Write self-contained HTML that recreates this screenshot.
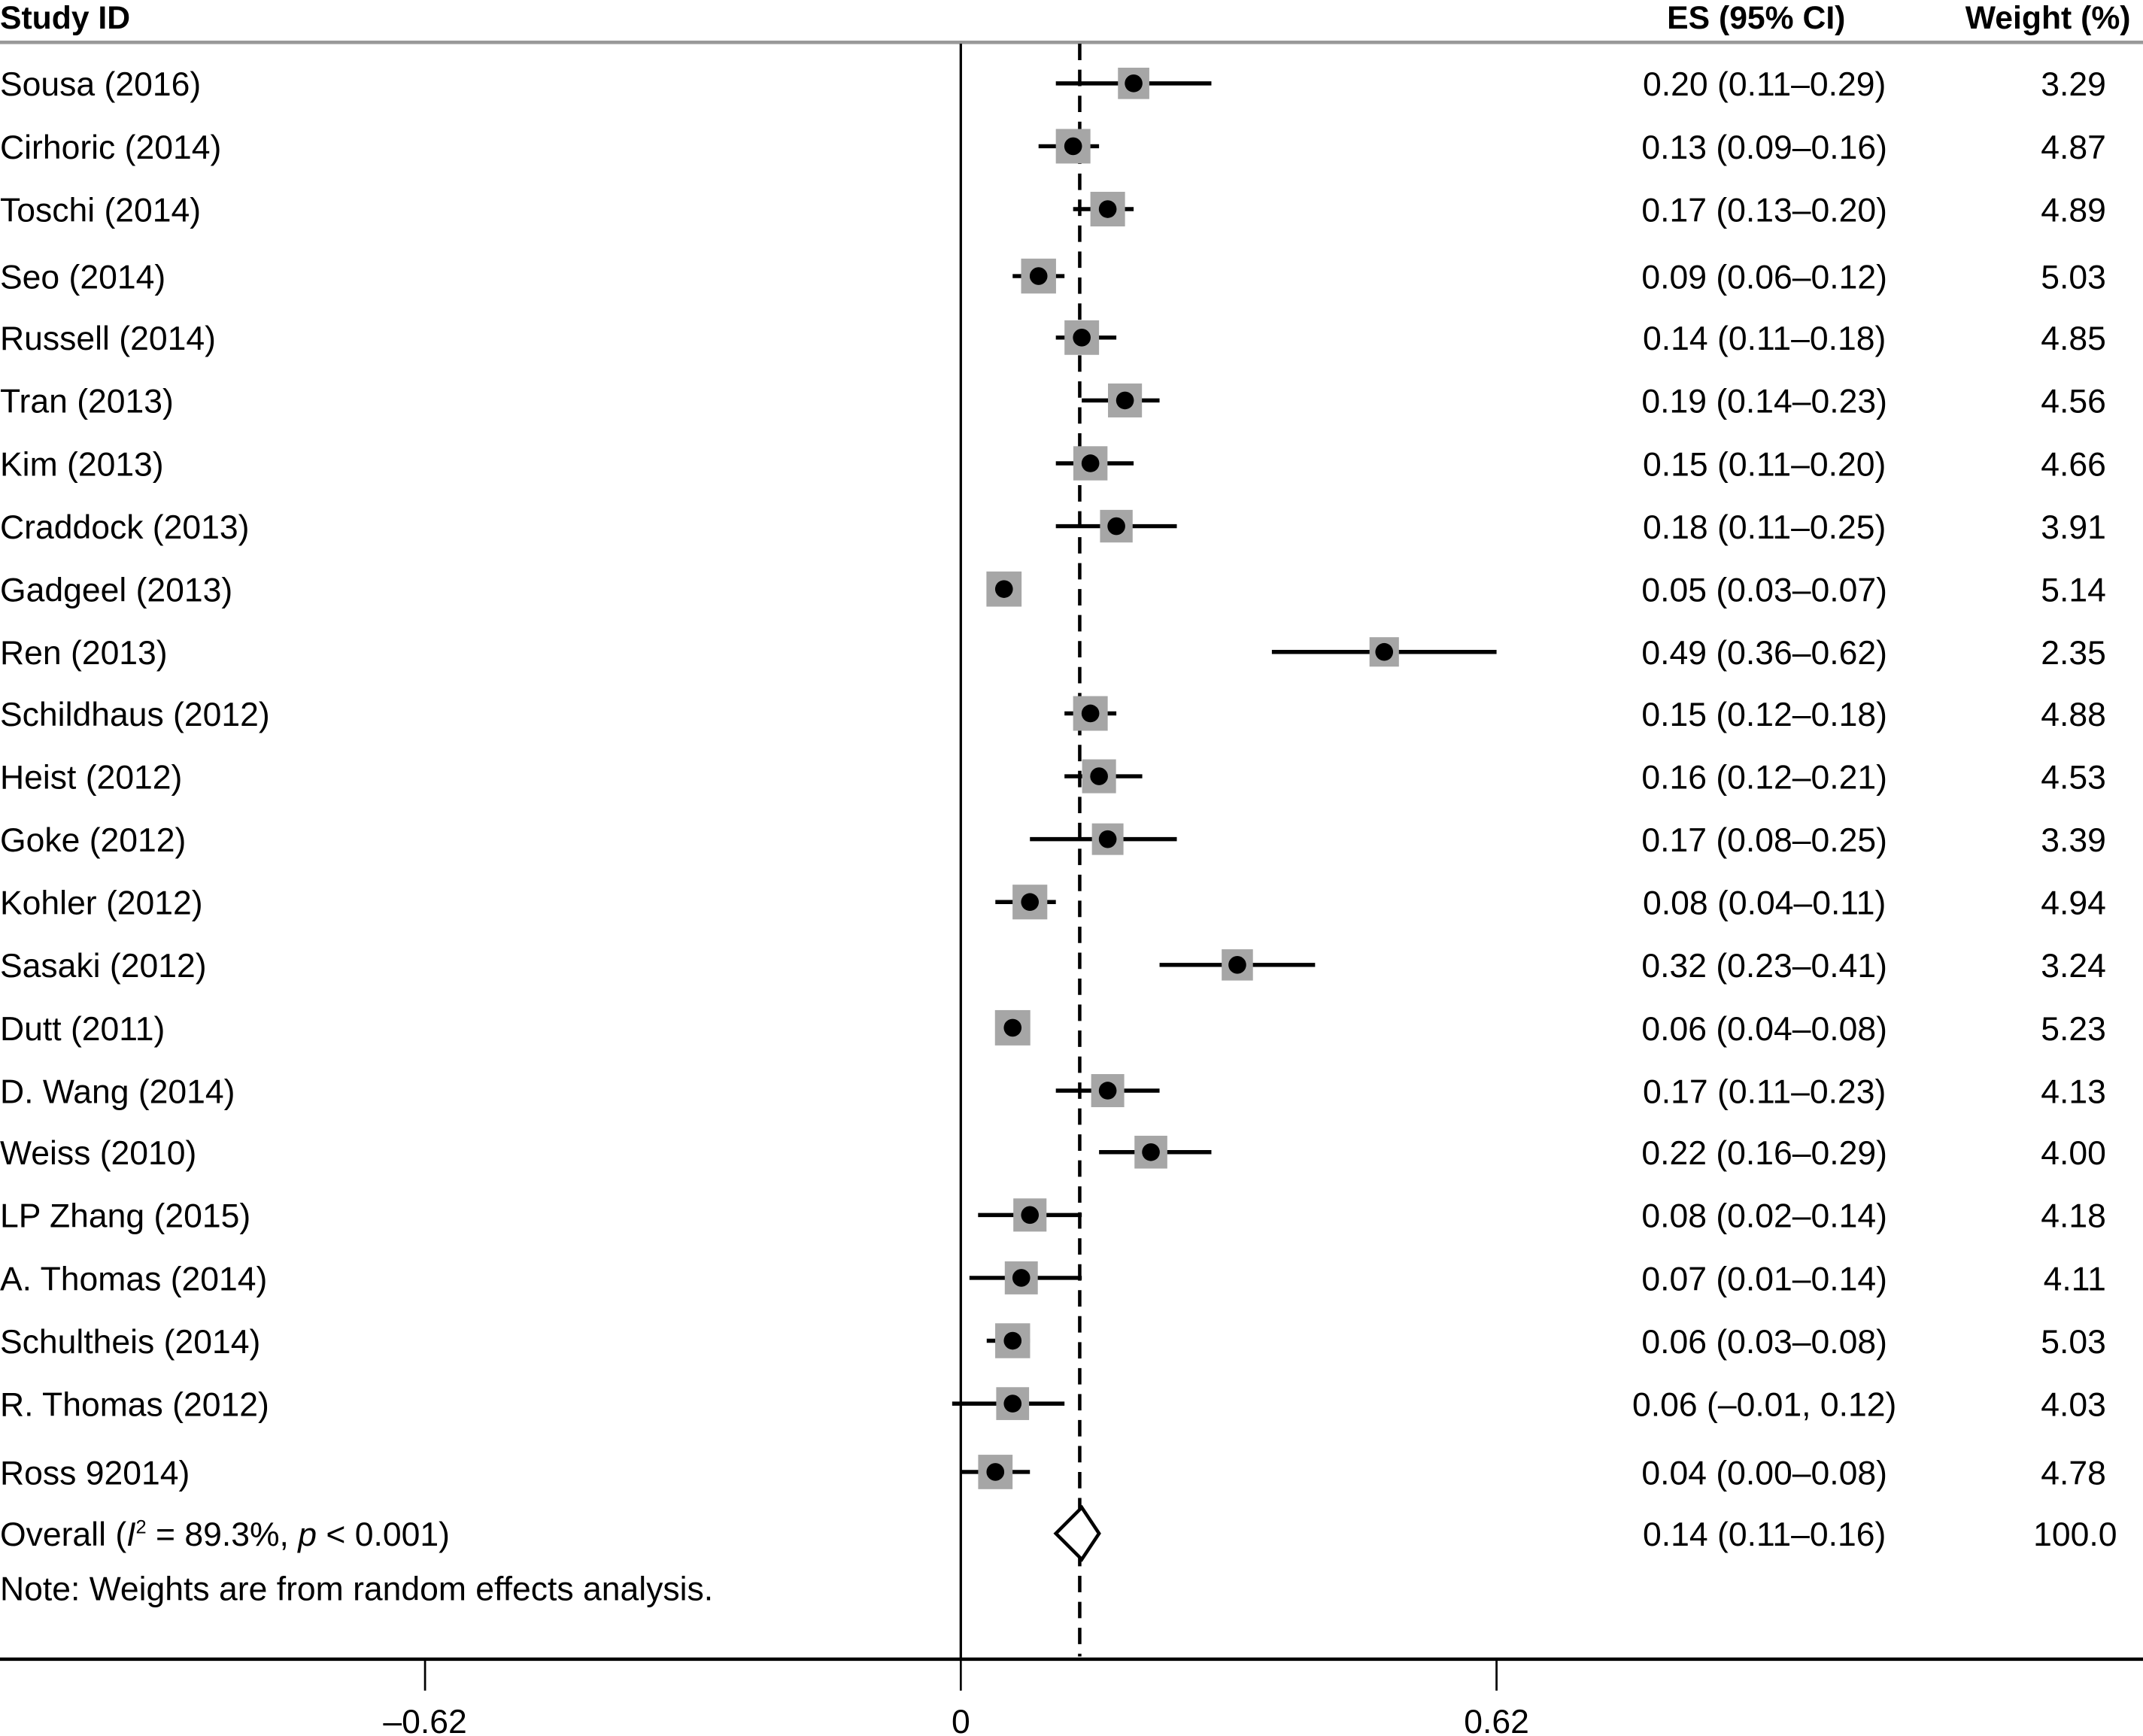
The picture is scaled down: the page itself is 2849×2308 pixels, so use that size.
<!DOCTYPE html>
<html><head><meta charset="utf-8"><style>
html,body{margin:0;padding:0;background:#fff;}
svg{display:block;}
text{font-family:"Liberation Sans",sans-serif;fill:#000;}
</style></head><body>
<svg id="chart" width="2849" height="2308" viewBox="0 0 1568 1270.2" preserveAspectRatio="none" xmlns="http://www.w3.org/2000/svg">
<g id="g"></g>
</svg>
<script>
const studies = ["Sousa (2016)","Cirhoric (2014)","Toschi (2014)","Seo (2014)","Russell (2014)","Tran (2013)","Kim (2013)","Craddock (2013)","Gadgeel (2013)","Ren (2013)","Schildhaus (2012)","Heist (2012)","Goke (2012)","Kohler (2012)","Sasaki (2012)","Dutt (2011)","D. Wang (2014)","Weiss (2010)","LP Zhang (2015)","A. Thomas (2014)","Schultheis (2014)","R. Thomas (2012)","Ross 92014)"];
const es = [0.20,0.13,0.17,0.09,0.14,0.19,0.15,0.18,0.05,0.49,0.15,0.16,0.17,0.08,0.32,0.06,0.17,0.22,0.08,0.07,0.06,0.06,0.04];
const lo = [0.11,0.09,0.13,0.06,0.11,0.14,0.11,0.11,0.03,0.36,0.12,0.12,0.08,0.04,0.23,0.04,0.11,0.16,0.02,0.01,0.03,-0.01,0.00];
const hi = [0.29,0.16,0.20,0.12,0.18,0.23,0.20,0.25,0.07,0.62,0.18,0.21,0.25,0.11,0.41,0.08,0.23,0.29,0.14,0.14,0.08,0.12,0.08];
const esLabels = ["0.20 (0.11–0.29)","0.13 (0.09–0.16)","0.17 (0.13–0.20)","0.09 (0.06–0.12)","0.14 (0.11–0.18)","0.19 (0.14–0.23)","0.15 (0.11–0.20)","0.18 (0.11–0.25)","0.05 (0.03–0.07)","0.49 (0.36–0.62)","0.15 (0.12–0.18)","0.16 (0.12–0.21)","0.17 (0.08–0.25)","0.08 (0.04–0.11)","0.32 (0.23–0.41)","0.06 (0.04–0.08)","0.17 (0.11–0.23)","0.22 (0.16–0.29)","0.08 (0.02–0.14)","0.07 (0.01–0.14)","0.06 (0.03–0.08)","0.06 (–0.01, 0.12)","0.04 (0.00–0.08)"];
const weights = [3.29,4.87,4.89,5.03,4.85,4.56,4.66,3.91,5.14,2.35,4.88,4.53,3.39,4.94,3.24,5.23,4.13,4.00,4.18,4.11,5.03,4.03,4.78];
const overall = [0.14,0.11,0.16];
const ticks = [-0.62,0,0.62];
const tickLabels = ["–0.62","0","0.62"];

const NS="http://www.w3.org/2000/svg";
const g=document.getElementById('g');
const X=v=>703+v*(392/0.62);
const rowY=[61,107,153,202,247,293,339,385,431,477,522,568,614,660,706,752,798,843,889,935,981,1027,1077];
const Y=i=>rowY[i];
const FS=24.5;
function mk(tag,attrs,txt){const e=document.createElementNS(NS,tag);for(const k in attrs)e.setAttribute(k,attrs[k]);if(txt!==undefined)e.textContent=txt;g.appendChild(e);return e;}

let e;
e=mk('text',{x:0,y:21,'font-size':23.5,'font-weight':'bold'},'Study ID');


e=mk('text',{x:1285,y:21,'font-size':23.5,'font-weight':'bold','text-anchor':'middle'},'ES (95% CI)');


e=mk('text',{x:1438,y:21,'font-size':23.5,'font-weight':'bold'},'Weight (%)');


e=mk('line',{x1:0,y1:31,x2:1568,y2:31,stroke:'#999',"stroke-width":2.5});



e=mk('line',{x1:X(0),y1:32,x2:X(0),y2:1214,stroke:'#000',"stroke-width":1.8});


e=mk('line',{x1:X(overall[0])-1.5,y1:32,x2:X(overall[0])-1.5,y2:1212,stroke:'#000',"stroke-width":2.5,"stroke-dasharray":"12,7"});



for(let i=0;i<studies.length;i++){
  const y=Y(i);
  e=mk('text',{x:0,y:y+9,'font-size':FS},studies[i]);
  
  
  e=mk('line',{x1:X(lo[i]),y1:y,x2:X(hi[i]),y2:y,stroke:'#000',"stroke-width":3});
  
  
  const s=18+weights[i]*1.5;
  e=mk('rect',{x:X(es[i])-s/2,y:y-s/2,width:s,height:s,fill:'#a6a6a6'});
  
  
  e=mk('circle',{cx:X(es[i]),cy:y,r:6.5,fill:'#000'});
  
  
  e=mk('text',{x:1291,y:y+9,'font-size':FS,'text-anchor':'middle'},esLabels[i]);
  
  
  e=mk('text',{x:1541,y:y+9,'font-size':FS,'text-anchor':'end'},weights[i].toFixed(2));
  
  
}
const oy=1122;
e=mk('text',{x:0,y:oy+9,'font-size':FS});
e.innerHTML='Overall (<tspan font-style="italic">I</tspan><tspan font-size="14" dy="-9">2</tspan><tspan dy="9"> = 89.3%, </tspan><tspan font-style="italic">p</tspan> &lt; 0.001)';


e=mk('polygon',{points:`${X(overall[1])},${oy} ${X(overall[0])},${oy-19} ${X(overall[2])},${oy} ${X(overall[0])},${oy+19}`,fill:'#fff',stroke:'#000',"stroke-width":2.5});


e=mk('text',{x:1291,y:oy+9,'font-size':FS,'text-anchor':'middle'},'0.14 (0.11–0.16)');


e=mk('text',{x:1549,y:oy+9,'font-size':FS,'text-anchor':'end'},'100.0');


e=mk('text',{x:0,y:1171,'font-size':FS},'Note: Weights are from random effects analysis.');



e=mk('line',{x1:0,y1:1214,x2:1568,y2:1214,stroke:'#000',"stroke-width":2.5});


for(let i=0;i<ticks.length;i++){
  e=mk('line',{x1:X(ticks[i]),y1:1214,x2:X(ticks[i]),y2:1237,stroke:'#000',"stroke-width":1.5});
  
  
  e=mk('text',{x:X(ticks[i]),y:1268,'font-size':FS,'text-anchor':'middle'},tickLabels[i]);
  
  
}
</script>
</body></html>
